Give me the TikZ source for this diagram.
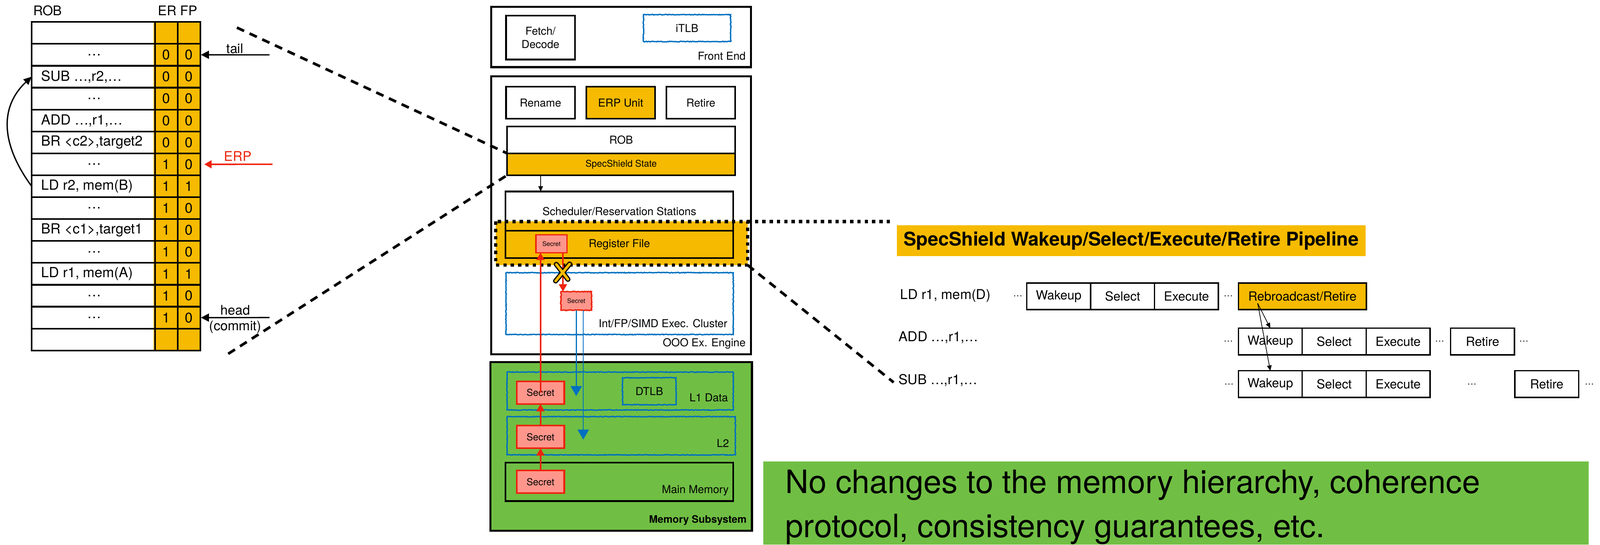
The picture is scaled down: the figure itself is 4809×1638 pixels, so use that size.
\documentclass[tikz,border=0pt]{standalone}
\usepackage{fontspec}
\setmainfont{TeX Gyre Heros}
\usetikzlibrary{arrows.meta,decorations.pathmorphing}
\definecolor{sorange}{RGB}{246,186,0}
\definecolor{sgreen}{RGB}{112,191,68}
\definecolor{sred}{RGB}{238,34,12}
\definecolor{spink}{RGB}{255,150,140}
\definecolor{sblue}{RGB}{0,112,192}
\newcommand\fsz[2]{\fontsize{#1}{#2}\selectfont}
\begin{document}
\begin{tikzpicture}[x=1pt,y=-1pt,
  every node/.style={inner sep=0pt,outer sep=0pt},
  tbl/.style={line width=5pt},
  celltext/.style={font=\fsz{42}{50}},
  biglbl/.style={font=\fsz{40}{47}},
  bigbox/.style={draw, line width=6pt, fill=white, anchor=north west},
  blk/.style={draw, line width=5pt, fill=white, anchor=north west, font=\fsz{33}{40}, align=center},
  obox/.style={blk, fill=sorange},
  sketch/.style={draw=sblue, line width=4pt, anchor=north west, decorate, decoration={random steps, segment length=3pt, amplitude=1pt}},
  secret/.style={draw=sred, line width=5pt, fill=spink, anchor=north west, font=\fsz{29}{34}, minimum width=143pt, minimum height=68pt},
  lbl/.style={anchor=east, font=\fsz{33}{40}},
  stagebox/.style={draw, line width=4pt, fill=white, anchor=north west, minimum width=192pt, minimum height=80pt, font=\fsz{38}{44}},
  pdots/.style={font=\fsz{28}{32}},
  blackarrow/.style={line width=4pt, -{Triangle[width=24pt,length=24pt]}},
  redarrow/.style={draw=sred, line width=4.5pt, -{Triangle[width=24pt,length=22pt]}},
  bluearrow/.style={draw=sblue, line width=3pt, -{Triangle[width=34pt,length=30pt]}},
  zoomdash/.style={line width=8pt, dash pattern=on 24pt off 18pt},
  dotborder/.style={line width=10pt, dash pattern=on 10pt off 12pt},
  thinarrow/.style={line width=2pt, -{Triangle[width=14pt,length=16pt]}}
]
\useasboundingbox (0,0) rectangle (4809,1638);

% ---------------- ROB table ----------------
\fill[sorange] (461,66) rectangle (604,1054);
\node[biglbl] (robl) at (143,32) {ROB};
\node[biglbl] (erfp) at (534,32) {ER FP};
\foreach \i/\t/\xx/\an/\e/\f in {
 1/{}/283/center/{}/{},
 2/…/283/center/0/0,
 3/{SUB …,r2,…}/124/west/0/0,
 4/…/283/center/0/0,
 5/{ADD …,r1,…}/124/west/0/0,
 6/{BR <c2>,target2}/124/west/0/0,
 7/…/283/center/1/0,
 8/{LD r2, mem(B)}/124/west/1/1,
 9/…/283/center/1/0,
 10/{BR <c1>,target1}/124/west/1/0,
 11/…/283/center/1/0,
 12/{LD r1, mem(A)}/124/west/1/1,
 13/…/283/center/1/0,
 14/…/283/center/1/0,
 15/{}/283/center/{}/{}}
{
  \pgfmathsetmacro\yc{66+(\i-0.5)*65.87}
  \node[celltext,anchor=\an] (t\i) at (\xx,\yc) {\t};
  \node[celltext] (er\i) at (500,\yc) {\e};
  \node[celltext] (fp\i) at (568,\yc) {\f};
  \coordinate (le\i) at (95,\yc);
  \coordinate (re\i) at (604,\yc);
}
\foreach \k in {1,...,14} \draw[tbl] (95,{66+\k*65.87}) -- (602,{66+\k*65.87});
\draw[tbl] (466,66) -- (466,1054) (534,66) -- (534,1054);
\draw[tbl] (95,66) rectangle (602,1054);

% pointers
\coordinate (tailS) at (810,165);
\draw[blackarrow] (tailS) -- (re2);
\node[biglbl] (taill) at (706,146) {tail};
\coordinate (erpS) at (819,494);
\draw[redarrow] (erpS) -- ([xshift=10pt]re7);
\node[biglbl, text=sred] (erpl) at (715,470) {ERP};
\coordinate (headS) at (810,955);
\draw[blackarrow] (headS) -- (re14);
\node[biglbl, align=center] (headl) at (707,960) {head\\(commit)};
\draw[line width=4pt, -{Triangle[width=22pt,length=24pt]}] (le8) .. controls (0,430) and (0,320) .. (le3);

% ---------------- Front end ----------------
\node[bigbox, minimum width=781pt, minimum height=181pt] (fe) at (1476,21) {};
\node[blk, minimum width=207pt, minimum height=132pt] (fetch) at (1521,47) {Fetch/\\Decode};
\node[sketch, minimum width=262pt, minimum height=81pt, font=\fsz{33}{40}] (itlb) at (1934,44) {iTLB};
\node[lbl] (fel) at (2241,168) {Front End};

% ---------------- OOO engine ----------------
\node[bigbox, minimum width=781pt, minimum height=835pt] (ooo) at (1476,230) {};
\node[blk, minimum width=207pt, minimum height=96pt] (ren) at (1521,261) {Rename};
\node[obox, minimum width=207pt, minimum height=96pt] (erpu) at (1762,261) {ERP Unit};
\node[blk, minimum width=207pt, minimum height=96pt] (ret) at (2003,261) {Retire};
\node[blk, minimum width=686pt, minimum height=81pt] (rob) at (1524,380) {ROB};
\node[obox, minimum width=686pt, minimum height=66pt, font=\fsz{28}{34}] (ss) at (1524,461) {SpecShield State};

\node[fill=sorange, anchor=north west, minimum width=757pt, minimum height=131pt] (hl) at (1490,666) {};
\node[blk, fill=none, minimum width=685pt, minimum height=118pt] (sched) at (1519,576) {Scheduler/Reservation Stations};
\node[obox, minimum width=685pt, minimum height=82pt] (rf) at (1519,694) {Register File};
\draw[dotborder] (hl.north west) rectangle (hl.south east);
\node[secret, line width=4pt, font=\fsz{19}{22}, minimum width=93pt, minimum height=54pt] (rfs) at (1611,706) {Secret};

\path (ss.south west) ++(101,0) coordinate (sa);
\draw[thinarrow] (sa) -- (sa |- sched.north);

\node[sketch, minimum width=683pt, minimum height=186pt] (exec) at (1521,820) {};
\node[lbl] (execl) at (2186,972) {Int/FP/SIMD Exec. Cluster};
\node[secret, line width=4pt, font=\fsz{19}{22}, minimum width=92pt, minimum height=56pt, decorate, decoration={random steps, segment length=3pt, amplitude=1.2pt}] (s2) at (1686,877) {Secret};
\node[lbl] (oool) at (2241,1033) {OOO Ex. Engine};

% ---------------- Memory subsystem ----------------
\node[bigbox, fill=sgreen, minimum width=786pt, minimum height=507pt] (mem) at (1474,1089) {};
\node[sketch, minimum width=680pt, minimum height=114pt] (l1) at (1524,1119) {};
\node[sketch, font=\fsz{33}{40}, minimum width=161pt, minimum height=81pt] (dtlb) at (1871,1136) {DTLB};
\node[secret] (l1s) at (1553,1147) {Secret};
\node[lbl] (l1l) at (2188,1196) {L1 Data};
\node[sketch, minimum width=686pt, minimum height=115pt] (l2) at (1524,1253) {};
\node[secret] (l2s) at (1553,1280) {Secret};
\node[lbl] (l2l) at (2191,1333) {L2};
\node[draw, line width=5pt, anchor=north west, minimum width=685pt, minimum height=116pt] (mm) at (1519,1391) {};
\node[secret] (mms) at (1553,1415) {Secret};
\node[lbl] (mml) at (2190,1475) {Main Memory};
\node[lbl, font=\bfseries\fsz{31}{36}] (meml) at (2244,1565) {Memory Subsystem};

% secret flows
\draw[redarrow] (mms.north) -- (l2s.south);
\draw[redarrow] (l2s.north) -- (l1s.south);
\draw[redarrow] (l1s.center) -- (l1s.center |- rfs.south);
\path (rfs.south -| s2.west) ++(6,0) coordinate (xa);
\draw[redarrow] (xa) -- (xa |- s2.north);
\draw[line width=15pt, line cap=round] (1672,795) -- (1707,840) (1712,794) -- (1670,845);
\draw[line width=8pt, line cap=round, sorange] (1672,795) -- (1707,840) (1712,794) -- (1670,845);
\coordinate (b1) at (1732,1191);
\coordinate (b2) at (1753,1322);
\draw[bluearrow] (s2.south) -- (b1);
\draw[bluearrow] (s2.south) ++(21,0) coordinate (xb) -- (b2);

% zoom lines
\coordinate (zd1) at (712,83);
\coordinate (zd2) at (686,1064);
\draw[zoomdash] (zd1) -- (ss.north west);
\draw[zoomdash] (zd2) -- (ss.south west);
\coordinate (dt) at (2682,666);
\draw[dotborder] (hl.north east) -- (dt);
\coordinate (dd) at (2686,1150);
\draw[zoomdash] (hl.south east) -- (dd);

% ---------------- Pipeline ----------------
\node[fill=sorange, anchor=north west, minimum width=1408pt, minimum height=93pt, font=\bfseries\fsz{57}{64}] (title) at (2696,677) {SpecShield Wakeup/Select/Execute/Retire Pipeline};
\node[anchor=west, font=\fsz{41}{48}] (ldl) at (2706,889) {LD r1, mem(D)};
\node[anchor=west, font=\fsz{41}{48}] (addl) at (2701,1015) {ADD …,r1,…};
\node[anchor=west, font=\fsz{41}{48}] (subl) at (2701,1143) {SUB …,r1,…};

\node[stagebox] (lw) at (3086,851) {Wakeup};
\node[stagebox] (ls) at (3278,851) {Select};
\node[stagebox] (lx) at (3470,851) {Execute};
\node[stagebox, fill=sorange, minimum width=385pt] (lr) at (3722,851) {Rebroadcast/Retire};
\node[stagebox] (aw) at (3722,987) {Wakeup};
\node[stagebox] (as) at (3914,987) {Select};
\node[stagebox] (ax) at (4106,987) {Execute};
\node[stagebox] (ar) at (4360,987) {Retire};
\node[stagebox] (sw) at (3722,1115) {Wakeup};
\node[stagebox] (sl) at (3914,1115) {Select};
\node[stagebox] (sx) at (4106,1115) {Execute};
\node[stagebox] (sr) at (4553,1115) {Retire};

\node[pdots] (p1) at (3059,890) {…};
\node[pdots] (p2) at (3692,890) {…};
\node[pdots] (p3) at (3692,1027) {…};
\node[pdots] (p4) at (4327,1027) {…};
\node[pdots] (p5) at (4580,1027) {…};
\node[pdots] (p6) at (3694,1155) {…};
\node[pdots] (p7) at (4424,1155) {…};
\node[pdots] (p8) at (4777,1155) {…};

\coordinate (rb) at (3780,912);
\draw[thinarrow] (rb) -- (aw.north);
\draw[thinarrow] (rb) -- (sw.north);

% ---------------- Note ----------------
\node[fill=sgreen, anchor=north west, minimum width=2481pt, minimum height=250pt] (gbox) at (2294,1388) {};
\node[anchor=base west, font=\fsz{97}{133}] (g1) at (2361,1483) {No changes to the memory hierarchy, coherence};
\node[anchor=base west, font=\fsz{97}{133}] (g2) at (2361,1616) {protocol, consistency guarantees, etc.};
\end{tikzpicture}
\end{document}
